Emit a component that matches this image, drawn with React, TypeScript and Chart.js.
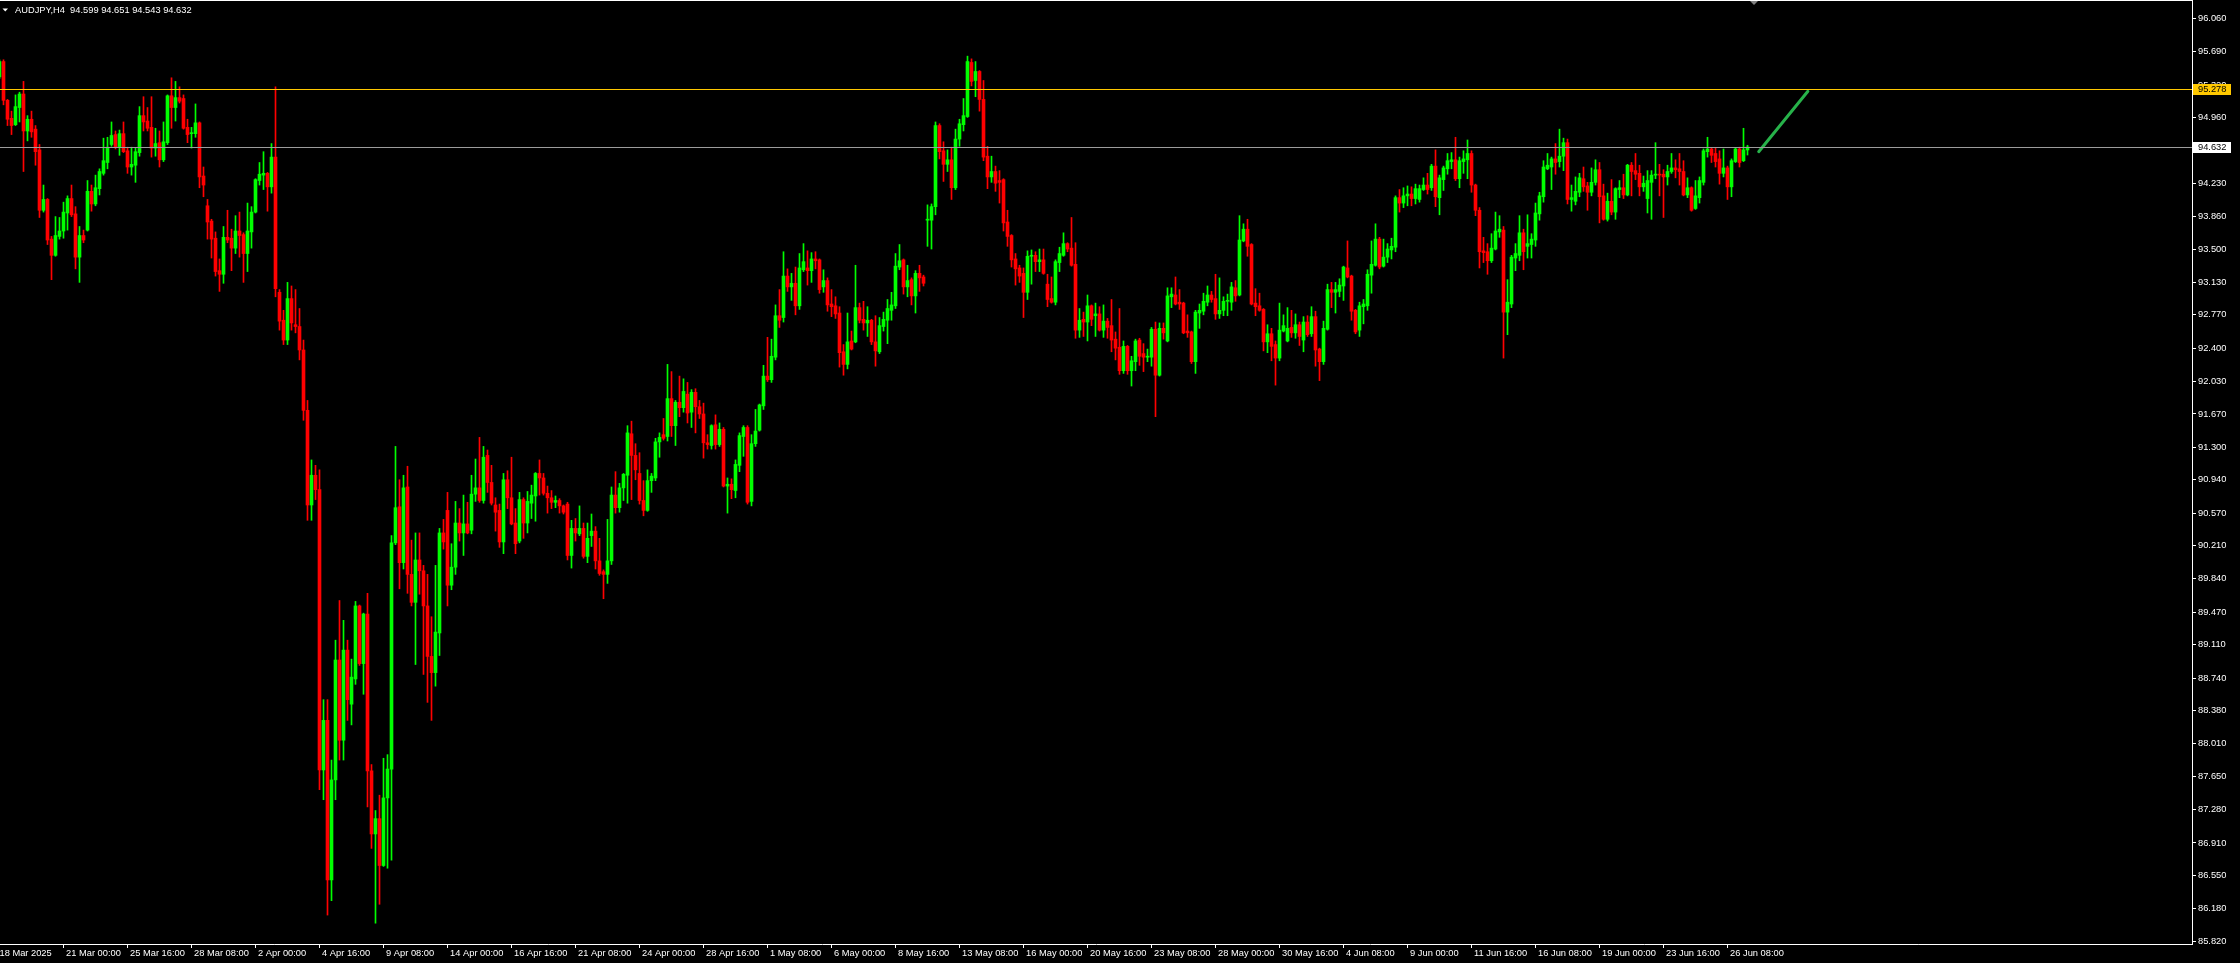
import React, { useEffect, useRef } from "react";
import { Chart, registerables } from "chart.js";

Chart.register(...registerables);

const W = 2240;
const H = 963;
const FONT = "'Liberation Sans', Arial, sans-serif";
const FONT_SIZE = 9.3;

const TITLE_TEXT = "AUDJPY,H4  94.599 94.651 94.543 94.632";

// H4 candles, bar index 0 = 18 Mar 2025 08:00
const OPEN = [
  95.41, 95.58, 95.15, 94.95, 94.88, 95.07, 95.22, 94.81, 94.94, 94.83,
  94.60, 93.93, 94.05, 93.61, 93.43, 93.64, 93.70, 93.90, 94.06, 93.89,
  93.41, 93.65, 93.71, 94.14, 94.00, 94.17, 94.34, 94.46, 94.66, 94.77,
  94.63, 94.78, 94.59, 94.41, 94.43, 94.57, 94.98, 94.92, 94.85, 94.62,
  94.68, 94.49, 94.68, 95.20, 95.07, 95.18, 95.17, 94.85, 94.78, 94.78,
  94.90, 94.31, 93.98, 93.81, 93.62, 93.26, 93.22, 93.63, 93.62, 93.51,
  93.70, 93.66, 93.45, 93.69, 93.91, 94.26, 94.32, 94.34, 94.19, 94.52,
  93.02, 92.71, 92.49, 92.95, 92.66, 92.64, 92.38, 91.71, 90.66, 90.99,
  90.83, 87.72, 88.27, 86.50, 87.61, 88.94, 88.05, 89.05, 88.45, 88.73,
  89.54, 88.90, 89.45, 87.71, 87.01, 87.18, 86.66, 87.41, 87.73, 90.24,
  90.64, 90.02, 90.86, 89.89, 89.58, 90.05, 89.93, 89.54, 88.98, 88.80,
  89.24, 90.35, 90.60, 89.77, 89.97, 90.46, 90.35, 90.45, 90.38, 90.78,
  90.85, 90.71, 91.21, 90.91, 90.66, 90.60, 90.25, 90.94, 90.74, 90.46,
  90.26, 90.72, 90.46, 90.68, 90.76, 91.01, 90.96, 90.79, 90.74, 90.69,
  90.71, 90.65, 90.67, 90.10, 90.40, 90.34, 90.40, 90.09, 90.32, 90.37,
  90.04, 89.92, 89.89, 90.04, 90.77, 90.63, 90.85, 90.99, 91.45, 91.21,
  91.01, 90.71, 90.60, 90.93, 90.96, 91.36, 91.44, 91.42, 91.84, 91.54,
  91.80, 91.74, 91.89, 91.69, 91.91, 91.75, 91.67, 91.35, 91.32, 91.55,
  91.33, 91.50, 90.87, 90.89, 90.82, 91.10, 91.42, 91.52, 90.70, 91.34,
  91.49, 91.76, 92.09, 92.05, 92.30, 92.76, 92.74, 93.20, 93.08, 93.12,
  92.87, 93.27, 93.29, 93.26, 93.39, 93.38, 93.08, 93.15, 92.89, 92.87,
  92.79, 92.36, 92.22, 92.48, 92.47, 92.85, 92.72, 92.68, 92.71, 92.47,
  92.36, 92.64, 92.71, 92.82, 92.87, 93.30, 93.38, 93.08, 93.16, 92.98,
  93.23, 93.19, 93.82, 93.82, 93.97, 94.87, 94.59, 94.44, 94.49, 94.18,
  94.72, 94.88, 94.97, 95.57, 95.37, 95.47, 95.16, 94.53, 94.30, 94.36,
  94.26, 94.27, 93.80, 93.65, 93.39, 93.29, 93.23, 93.02, 93.42, 93.43,
  93.36, 93.38, 93.11, 92.95, 92.91, 93.35, 93.43, 93.56, 93.51, 93.33,
  92.60, 92.72, 92.69, 92.87, 92.76, 92.78, 92.60, 92.70, 92.65, 92.50,
  92.41, 92.15, 92.42, 92.15, 92.25, 92.49, 92.34, 92.30, 92.30, 92.61,
  92.10, 92.62, 92.48, 92.97, 92.99, 92.91, 92.90, 92.59, 92.58, 92.25,
  92.79, 92.81, 92.91, 92.99, 92.95, 92.78, 92.82, 92.92, 92.91, 93.07,
  92.99, 93.59, 93.72, 93.55, 92.90, 92.87, 92.83, 92.47, 92.56, 92.44,
  92.29, 92.59, 92.48, 92.63, 92.57, 92.66, 92.49, 92.69, 92.56, 92.75,
  92.39, 92.25, 92.61, 93.05, 93.02, 93.03, 93.09, 93.29, 93.20, 92.82,
  92.60, 92.86, 92.87, 93.21, 93.32, 93.61, 93.31, 93.41, 93.49, 93.52,
  94.07, 94.01, 94.09, 94.11, 94.06, 94.05, 94.16, 94.21, 94.18, 94.42,
  94.07, 94.27, 94.39, 94.47, 94.49, 94.28, 94.47, 94.49, 94.56, 94.21,
  93.93, 93.48, 93.47, 93.37, 93.50, 93.69, 93.71, 92.80, 92.89, 93.40,
  93.43, 93.68, 93.53, 93.55, 93.60, 93.89, 94.08, 94.39, 94.41, 94.50,
  94.47, 94.53, 94.68, 94.05, 94.03, 94.13, 94.28, 94.20, 94.13, 94.24,
  94.38, 94.09, 93.83, 94.03, 93.91, 94.16, 94.18, 94.10, 94.43, 94.37,
  94.34, 94.19, 94.06, 94.24, 94.32, 94.33, 94.33, 94.30, 94.36, 94.40,
  94.39, 94.36, 94.10, 94.18, 93.95, 94.07, 94.24, 94.58, 94.61, 94.56,
  94.50, 94.34, 94.40, 94.19, 94.47, 94.61, 94.48, 94.599,
];

const HIGH = [
  95.60, 95.60, 95.16, 95.03, 95.21, 95.24, 95.36, 94.98, 95.03, 94.87,
  94.66, 94.21, 94.06, 93.64, 93.86, 93.85, 94.02, 94.09, 94.21, 93.97,
  93.75, 93.71, 94.26, 94.21, 94.32, 94.39, 94.73, 94.74, 94.91, 94.81,
  94.82, 94.91, 94.63, 94.63, 94.62, 95.08, 95.19, 95.07, 95.19, 94.84,
  94.81, 94.91, 95.21, 95.40, 95.36, 95.30, 95.21, 94.94, 94.85, 95.11,
  94.91, 94.41, 94.05, 93.83, 93.69, 93.39, 93.75, 93.93, 93.72, 93.87,
  93.91, 93.68, 94.01, 93.97, 94.28, 94.46, 94.58, 94.35, 94.67, 95.30,
  93.05, 92.82, 93.13, 93.09, 93.05, 92.84, 92.49, 91.82, 91.16, 91.10,
  91.05, 88.50, 88.50, 87.83, 89.16, 89.60, 89.38, 89.16, 88.95, 89.59,
  89.55, 89.46, 89.68, 87.78, 87.27, 87.44, 87.85, 87.89, 90.32, 91.31,
  90.94, 90.99, 91.09, 90.27, 90.35, 90.35, 89.99, 89.89, 89.42, 89.99,
  90.40, 90.50, 90.80, 90.23, 90.70, 90.62, 90.77, 90.69, 90.99, 91.17,
  91.41, 91.31, 91.27, 91.10, 90.74, 90.67, 91.01, 91.04, 91.19, 90.62,
  90.80, 90.74, 90.81, 90.88, 91.02, 91.16, 91.01, 90.87, 90.82, 90.76,
  90.73, 90.66, 90.69, 90.49, 90.51, 90.65, 90.46, 90.46, 90.56, 90.42,
  90.29, 89.94, 90.50, 90.86, 91.03, 90.90, 91.01, 91.54, 91.59, 91.34,
  91.24, 90.93, 91.05, 91.01, 91.40, 91.46, 91.62, 92.22, 92.14, 91.82,
  92.09, 92.06, 92.02, 91.94, 91.95, 91.82, 91.79, 91.44, 91.55, 91.66,
  91.57, 91.52, 90.96, 90.95, 91.16, 91.46, 91.54, 91.54, 91.44, 91.72,
  91.78, 92.21, 92.52, 92.50, 92.88, 93.05, 93.47, 93.28, 93.23, 93.30,
  93.45, 93.56, 93.48, 93.46, 93.47, 93.39, 93.27, 93.18, 93.05, 92.97,
  92.86, 92.44, 92.79, 92.59, 93.32, 92.90, 92.92, 92.86, 92.72, 92.76,
  92.74, 92.80, 92.94, 93.02, 93.45, 93.55, 93.39, 93.32, 93.18, 93.26,
  93.32, 93.21, 93.99, 94.00, 94.91, 94.89, 94.69, 94.60, 94.63, 94.83,
  94.94, 95.17, 95.64, 95.61, 95.58, 95.48, 95.37, 94.64, 94.53, 94.42,
  94.37, 94.28, 93.93, 93.66, 93.45, 93.32, 93.29, 93.48, 93.49, 93.47,
  93.50, 93.50, 93.22, 93.19, 93.38, 93.52, 93.68, 93.57, 93.85, 93.57,
  92.84, 92.80, 92.99, 92.88, 92.90, 92.86, 92.88, 92.73, 92.94, 92.58,
  92.84, 92.48, 92.43, 92.31, 92.50, 92.51, 92.45, 92.39, 92.63, 92.69,
  92.68, 92.68, 93.07, 93.07, 93.19, 93.05, 92.91, 92.77, 92.59, 92.82,
  92.89, 93.01, 93.09, 93.03, 93.22, 93.18, 92.97, 93.00, 93.13, 93.15,
  93.87, 93.78, 93.83, 93.56, 93.06, 93.01, 92.84, 92.66, 92.62, 92.48,
  92.90, 92.77, 92.85, 92.82, 92.78, 92.69, 92.75, 92.76, 92.86, 92.81,
  92.40, 92.70, 93.11, 93.13, 93.13, 93.17, 93.31, 93.59, 93.21, 92.83,
  92.91, 92.94, 93.27, 93.59, 93.78, 93.63, 93.61, 93.56, 93.62, 94.09,
  94.16, 94.18, 94.20, 94.19, 94.22, 94.21, 94.29, 94.34, 94.44, 94.60,
  94.32, 94.42, 94.56, 94.57, 94.74, 94.52, 94.59, 94.71, 94.59, 94.22,
  93.96, 93.63, 93.56, 93.67, 93.91, 93.87, 93.75, 93.16, 93.43, 93.56,
  93.87, 93.72, 93.88, 93.67, 94.01, 94.13, 94.48, 94.56, 94.52, 94.67,
  94.83, 94.73, 94.72, 94.21, 94.30, 94.34, 94.41, 94.24, 94.40, 94.49,
  94.46, 94.22, 94.12, 94.27, 94.18, 94.26, 94.33, 94.44, 94.46, 94.56,
  94.43, 94.31, 94.37, 94.37, 94.68, 94.44, 94.38, 94.43, 94.56, 94.49,
  94.56, 94.48, 94.29, 94.19, 94.26, 94.30, 94.61, 94.74, 94.62, 94.62,
  94.59, 94.61, 94.42, 94.50, 94.62, 94.63, 94.84, 94.651,
];

const LOW = [
  95.39, 95.10, 94.87, 94.77, 94.87, 94.91, 94.36, 94.70, 94.74, 94.43,
  93.85, 93.91, 93.55, 93.16, 93.42, 93.61, 93.62, 93.71, 93.86, 93.28,
  93.13, 93.57, 93.70, 93.92, 93.98, 94.10, 94.32, 94.39, 94.64, 94.61,
  94.54, 94.57, 94.34, 94.32, 94.24, 94.53, 94.81, 94.81, 94.52, 94.53,
  94.41, 94.47, 94.66, 94.84, 94.92, 95.12, 94.83, 94.68, 94.62, 94.74,
  94.18, 94.08, 93.61, 93.40, 93.20, 93.03, 93.12, 93.57, 93.26, 93.45,
  93.41, 93.13, 93.25, 93.51, 93.90, 94.21, 94.16, 93.92, 94.12, 92.97,
  92.60, 92.44, 92.44, 92.60, 92.57, 92.27, 91.60, 90.49, 90.49, 90.72,
  87.50, 87.39, 86.11, 86.27, 87.39, 87.83, 87.83, 88.27, 88.22, 88.67,
  88.88, 88.56, 87.31, 86.85, 86.02, 86.23, 86.65, 86.63, 86.72, 90.22,
  89.73, 89.95, 89.68, 89.54, 88.89, 89.67, 88.78, 88.47, 88.27, 88.65,
  88.99, 90.17, 89.54, 89.72, 89.89, 90.26, 90.10, 90.34, 90.34, 90.70,
  90.69, 90.68, 90.80, 90.66, 90.37, 90.19, 90.12, 90.62, 90.44, 90.12,
  90.24, 90.29, 90.35, 90.51, 90.48, 90.77, 90.77, 90.57, 90.62, 90.63,
  90.57, 90.56, 90.05, 89.96, 90.26, 90.32, 90.07, 90.02, 90.20, 89.95,
  89.88, 89.62, 89.79, 90.00, 90.57, 90.58, 90.71, 90.68, 90.72, 90.94,
  90.67, 90.54, 90.59, 90.80, 90.93, 91.19, 91.38, 91.37, 91.42, 91.32,
  91.64, 91.69, 91.57, 91.52, 91.46, 91.62, 91.18, 91.28, 91.28, 91.28,
  91.31, 90.86, 90.57, 90.73, 90.74, 91.03, 91.20, 90.67, 90.65, 91.31,
  91.48, 91.72, 92.03, 92.02, 92.27, 92.63, 92.69, 93.03, 92.93, 92.77,
  92.83, 93.25, 93.10, 93.13, 93.28, 93.01, 93.02, 92.81, 92.75, 92.73,
  92.19, 92.10, 92.17, 92.38, 92.46, 92.68, 92.60, 92.53, 92.44, 92.20,
  92.34, 92.59, 92.45, 92.71, 92.84, 93.27, 93.00, 92.97, 92.88, 92.79,
  93.03, 93.09, 93.53, 93.50, 93.88, 94.50, 94.25, 94.36, 94.05, 94.16,
  94.64, 94.81, 94.96, 95.31, 95.19, 95.03, 94.48, 94.17, 94.24, 94.14,
  94.01, 93.70, 93.53, 93.30, 93.10, 93.13, 92.74, 92.94, 93.11, 93.25,
  93.25, 93.22, 92.86, 92.90, 92.88, 93.25, 93.42, 93.47, 93.31, 92.51,
  92.52, 92.53, 92.48, 92.65, 92.53, 92.59, 92.52, 92.51, 92.36, 92.27,
  92.11, 92.12, 92.11, 91.98, 92.15, 92.21, 92.14, 92.25, 92.20, 91.64,
  92.09, 92.50, 92.47, 92.85, 92.88, 92.83, 92.56, 92.52, 92.23, 92.12,
  92.62, 92.77, 92.87, 92.91, 92.72, 92.73, 92.76, 92.76, 92.82, 92.92,
  92.98, 93.58, 93.42, 92.88, 92.76, 92.81, 92.37, 92.35, 92.26, 91.99,
  92.26, 92.58, 92.47, 92.52, 92.51, 92.43, 92.36, 92.53, 92.53, 92.20,
  92.04, 92.22, 92.60, 92.85, 92.79, 92.97, 92.93, 93.18, 92.71, 92.56,
  92.53, 92.67, 92.82, 93.01, 93.31, 93.28, 93.30, 93.35, 93.39, 93.47,
  93.91, 93.96, 93.98, 93.98, 94.00, 94.02, 94.15, 94.11, 94.15, 93.97,
  93.88, 94.15, 94.33, 94.39, 94.26, 94.18, 94.34, 94.28, 94.13, 93.87,
  93.29, 93.35, 93.22, 93.35, 93.49, 93.63, 92.29, 92.55, 92.85, 93.26,
  93.37, 93.27, 93.40, 93.40, 93.53, 93.82, 94.02, 94.38, 94.16, 94.33,
  94.41, 94.37, 94.00, 93.92, 93.99, 94.08, 94.14, 93.93, 94.09, 94.21,
  93.79, 93.82, 93.81, 93.88, 93.83, 94.07, 94.06, 94.09, 94.09, 94.27,
  94.09, 94.14, 93.90, 93.83, 94.28, 94.09, 93.85, 94.21, 94.34, 94.29,
  94.21, 94.09, 94.07, 93.92, 93.94, 94.01, 94.21, 94.52, 94.46, 94.41,
  94.22, 94.30, 94.05, 94.08, 94.46, 94.41, 94.47, 94.543,
];

const CLOSE = [
  95.58, 95.15, 94.94, 94.87, 95.08, 95.22, 94.81, 94.94, 94.80, 94.58,
  93.93, 94.05, 93.60, 93.43, 93.65, 93.70, 93.91, 94.06, 93.88, 93.41,
  93.65, 93.60, 94.14, 94.00, 94.18, 94.36, 94.48, 94.63, 94.76, 94.63,
  94.78, 94.58, 94.41, 94.44, 94.58, 94.98, 94.91, 94.84, 94.62, 94.67,
  94.49, 94.69, 95.20, 95.07, 95.18, 95.14, 94.84, 94.77, 94.79, 94.90,
  94.30, 94.21, 93.80, 93.61, 93.25, 93.22, 93.63, 93.60, 93.51, 93.70,
  93.65, 93.45, 93.70, 93.91, 94.27, 94.33, 94.34, 94.19, 94.52, 93.06,
  92.70, 92.49, 92.95, 92.68, 92.64, 92.38, 91.71, 90.66, 90.99, 90.83,
  87.72, 88.27, 86.50, 87.61, 88.94, 88.05, 89.05, 88.50, 88.75, 89.54,
  88.90, 89.45, 87.71, 87.01, 87.18, 86.66, 87.41, 87.73, 90.24, 90.63,
  90.02, 90.85, 89.89, 89.58, 90.05, 89.93, 89.54, 88.98, 88.80, 89.25,
  90.35, 90.25, 89.77, 89.97, 90.46, 90.35, 90.45, 90.35, 90.78, 90.85,
  90.71, 91.19, 90.91, 90.68, 90.58, 90.25, 90.94, 90.74, 90.45, 90.23,
  90.72, 90.46, 90.70, 90.77, 91.01, 90.96, 90.79, 90.74, 90.69, 90.71,
  90.65, 90.58, 90.10, 90.40, 90.35, 90.40, 90.09, 90.29, 90.37, 90.04,
  89.90, 89.89, 90.04, 90.77, 90.63, 90.85, 91.00, 91.46, 91.21, 91.05,
  90.71, 90.60, 90.93, 90.98, 91.36, 91.41, 91.40, 91.84, 91.54, 91.80,
  91.74, 91.92, 91.68, 91.91, 91.75, 91.67, 91.35, 91.33, 91.54, 91.33,
  91.50, 90.87, 90.89, 90.83, 91.11, 91.43, 91.52, 90.69, 91.34, 91.48,
  91.77, 92.09, 92.05, 92.31, 92.76, 92.71, 93.20, 93.08, 93.12, 92.87,
  93.29, 93.36, 93.26, 93.39, 93.37, 93.05, 93.15, 92.88, 92.86, 92.78,
  92.35, 92.22, 92.47, 92.39, 92.85, 92.71, 92.68, 92.71, 92.47, 92.37,
  92.65, 92.72, 92.84, 92.88, 93.31, 93.37, 93.08, 93.15, 92.98, 93.23,
  93.18, 93.12, 93.83, 93.97, 94.87, 94.58, 94.44, 94.49, 94.18, 94.72,
  94.89, 94.98, 95.58, 95.36, 95.47, 95.16, 94.52, 94.30, 94.36, 94.23,
  94.24, 93.79, 93.64, 93.38, 93.28, 93.20, 93.02, 93.42, 93.43, 93.36,
  93.38, 93.23, 92.94, 92.91, 93.36, 93.45, 93.56, 93.50, 93.32, 92.60,
  92.71, 92.69, 92.87, 92.72, 92.78, 92.60, 92.70, 92.63, 92.49, 92.40,
  92.15, 92.42, 92.15, 92.26, 92.48, 92.31, 92.30, 92.31, 92.61, 92.10,
  92.62, 92.57, 92.98, 93.00, 92.89, 92.89, 92.57, 92.57, 92.25, 92.80,
  92.82, 92.92, 92.99, 92.94, 92.78, 92.82, 92.92, 92.93, 93.08, 92.98,
  93.60, 93.72, 93.53, 92.89, 92.86, 92.82, 92.47, 92.56, 92.42, 92.29,
  92.60, 92.65, 92.62, 92.57, 92.66, 92.53, 92.69, 92.55, 92.75, 92.38,
  92.25, 92.62, 93.05, 93.02, 93.05, 93.10, 93.30, 93.19, 92.81, 92.58,
  92.87, 92.89, 93.22, 93.33, 93.61, 93.30, 93.41, 93.50, 93.53, 94.07,
  94.01, 94.09, 94.11, 94.06, 94.17, 94.17, 94.21, 94.16, 94.42, 94.08,
  94.29, 94.40, 94.48, 94.49, 94.28, 94.48, 94.50, 94.56, 94.21, 93.93,
  93.47, 93.46, 93.37, 93.51, 93.70, 93.72, 92.80, 92.91, 93.41, 93.45,
  93.68, 93.47, 93.56, 93.61, 93.90, 94.09, 94.41, 94.43, 94.50, 94.46,
  94.53, 94.68, 94.05, 94.07, 94.14, 94.29, 94.19, 94.13, 94.24, 94.38,
  94.08, 93.83, 94.03, 93.91, 94.17, 94.18, 94.10, 94.43, 94.36, 94.33,
  94.19, 94.23, 94.26, 94.32, 94.33, 94.32, 94.30, 94.36, 94.40, 94.38,
  94.36, 94.10, 94.18, 93.93, 94.09, 94.26, 94.59, 94.61, 94.54, 94.47,
  94.34, 94.40, 94.19, 94.48, 94.61, 94.46, 94.60, 94.632,
];

const X_TICK_BARS = [
  0, 16, 32, 48, 64, 80, 96, 112, 128, 144, 160, 176, 192, 208,
  224, 240, 256, 272, 288, 304, 320, 336, 352, 368, 384, 400, 416, 432,
];
const X_TICK_LABELS = [
  "18 Mar 2025", "21 Mar 00:00", "25 Mar 16:00", "28 Mar 08:00", "2 Apr 00:00",
  "4 Apr 16:00", "9 Apr 08:00", "14 Apr 00:00", "16 Apr 16:00", "21 Apr 08:00",
  "24 Apr 00:00", "28 Apr 16:00", "1 May 08:00", "6 May 00:00", "8 May 16:00",
  "13 May 08:00", "16 May 00:00", "20 May 16:00", "23 May 08:00", "28 May 00:00",
  "30 May 16:00", "4 Jun 08:00", "9 Jun 00:00", "11 Jun 16:00", "16 Jun 08:00",
  "19 Jun 00:00", "23 Jun 16:00", "26 Jun 08:00",
];
const Y_TICKS = [
  96.06, 95.69, 95.32, 94.96, 94.6, 94.23, 93.86, 93.5, 93.13, 92.77,
  92.4, 92.03, 91.67, 91.3, 90.94, 90.57, 90.21, 89.84, 89.47, 89.11,
  88.74, 88.38, 88.01, 87.65, 87.28, 86.91, 86.55, 86.18, 85.82,
];

const RESISTANCE_LEVEL = 95.278;
const BID_PRICE = 94.632;
const ARROW_X = [439.8, 452.1];
const ARROW_Y = [94.58, 95.25];

const Y_MIN = 85.789;
const Y_MAX = 96.252;
const X_MIN = 0.125;
const X_MAX = 548.125;

const UP_COLOR = "#00ff00";
const DOWN_COLOR = "#ff0000";

const overlayPlugin = {
  id: "mtOverlay",
  afterDatasetsDraw(chart: any) {
    const { ctx, chartArea, scales } = chart;
    const y = scales.y;
    ctx.save();
    ctx.lineWidth = 1;
    const yr = Math.round(y.getPixelForValue(RESISTANCE_LEVEL)) + 0.5;
    ctx.strokeStyle = "#ffc800";
    ctx.beginPath();
    ctx.moveTo(chartArea.left, yr);
    ctx.lineTo(chartArea.right, yr);
    ctx.stroke();
    const yb = Math.round(y.getPixelForValue(BID_PRICE)) + 0.5;
    ctx.strokeStyle = "#9c9c9c";
    ctx.beginPath();
    ctx.moveTo(chartArea.left, yb);
    ctx.lineTo(chartArea.right, yb);
    ctx.stroke();
    ctx.restore();
  },
  afterDraw(chart: any) {
    const { ctx, chartArea, scales } = chart;
    const y = scales.y;
    ctx.save();
    // top frame line
    ctx.fillStyle = "#ffffff";
    ctx.fillRect(0, 0, chartArea.right + 1, 1);
    // chart shift marker
    ctx.fillStyle = "#808080";
    ctx.beginPath();
    ctx.moveTo(1750, 1);
    ctx.lineTo(1758, 1);
    ctx.lineTo(1754, 5);
    ctx.closePath();
    ctx.fill();
    // title
    ctx.fillStyle = "#ffffff";
    ctx.beginPath();
    ctx.moveTo(2.5, 8.5);
    ctx.lineTo(8, 8.5);
    ctx.lineTo(5.25, 11.5);
    ctx.closePath();
    ctx.fill();
    ctx.font = `${FONT_SIZE}px ${FONT}`;
    ctx.textBaseline = "middle";
    ctx.textAlign = "left";
    ctx.fillText(TITLE_TEXT, 15, 10);
    // price tags
    const tag = (price: number, bg: string, fg: string) => {
      const py = Math.round(y.getPixelForValue(price));
      ctx.fillStyle = bg;
      ctx.fillRect(chartArea.right + 1, py - 5, 38, 11);
      ctx.fillStyle = fg;
      ctx.fillText(price.toFixed(3), chartArea.right + 6, py + 0.5);
    };
    tag(RESISTANCE_LEVEL, "#ffc800", "#000000");
    tag(BID_PRICE, "#ffffff", "#000000");
    ctx.restore();
  },
};

export default function App() {
  const canvasRef = useRef<HTMLCanvasElement | null>(null);

  useEffect(() => {
    const canvas = canvasRef.current;
    if (!canvas) return;
    const idx = OPEN.map((_, i) => i);
    const colors = idx.map((i) => (CLOSE[i] >= OPEN[i] ? UP_COLOR : DOWN_COLOR));

    const chart = new Chart(canvas, {
      type: "bar",
      data: {
        datasets: [
          {
            type: "line",
            data: [
              { x: ARROW_X[0], y: ARROW_Y[0] },
              { x: ARROW_X[1], y: ARROW_Y[1] },
            ],
            borderColor: "#27b24a",
            borderWidth: 3,
            borderCapStyle: "round",
            pointRadius: 0,
            tension: 0,
            order: 0,
          } as any,
          {
            type: "bar",
            data: idx.map((i) => ({ x: i, y: [OPEN[i], CLOSE[i]] })),
            backgroundColor: colors,
            borderWidth: 0,
            barThickness: 3,
            minBarLength: 1,
            grouped: false,
            order: 1,
          } as any,
          {
            type: "bar",
            data: idx.map((i) => ({ x: i, y: [LOW[i], HIGH[i]] })),
            backgroundColor: colors,
            borderWidth: 0,
            barThickness: 1,
            minBarLength: 1,
            grouped: false,
            order: 2,
          } as any,
        ],
      },
      options: {
        responsive: false,
        maintainAspectRatio: false,
        devicePixelRatio: 1,
        animation: false,
        events: [],
        layout: { padding: { top: 1, left: 0, right: 0, bottom: 0 } },
        plugins: {
          legend: { display: false },
          tooltip: { enabled: false },
          title: { display: false },
        },
        scales: {
          x: {
            type: "linear",
            position: "bottom",
            min: X_MIN,
            max: X_MAX,
            offset: false,
            bounds: "data",
            afterBuildTicks: (s: any) => {
              s.ticks = X_TICK_BARS.map((v) => ({ value: v }));
            },
            afterFit: (s: any) => {
              s.height = 19;
              s.paddingLeft = 0;
              s.paddingRight = 0;
            },
            ticks: {
              autoSkip: false,
              maxRotation: 0,
              minRotation: 0,
              align: "start",
              padding: 0,
              color: "#ffffff",
              font: { family: FONT, size: FONT_SIZE },
              callback: (_v: any, i: number) => (i === 0 ? "" : " ") + X_TICK_LABELS[i],
            },
            grid: {
              display: true,
              drawOnChartArea: false,
              drawTicks: true,
              tickLength: 4,
              color: "#ffffff",
              offset: false,
            },
            border: { display: true, color: "#ffffff", width: 1 },
          } as any,
          y: {
            type: "linear",
            position: "right",
            min: Y_MIN,
            max: Y_MAX,
            bounds: "data",
            afterBuildTicks: (s: any) => {
              s.ticks = Y_TICKS.map((v) => ({ value: v }));
            },
            afterFit: (s: any) => {
              s.width = 48;
              s.paddingTop = 0;
              s.paddingBottom = 0;
            },
            ticks: {
              autoSkip: false,
              padding: 2,
              color: "#ffffff",
              font: { family: FONT, size: FONT_SIZE },
              callback: (v: any) => Number(v).toFixed(3),
            },
            grid: {
              display: true,
              drawOnChartArea: false,
              drawTicks: true,
              tickLength: 4,
              color: "#ffffff",
            },
            border: { display: true, color: "#ffffff", width: 1 },
          } as any,
        },
      },
      plugins: [overlayPlugin],
    });

    return () => {
      chart.destroy();
    };
  }, []);

  return (
    <div
      style={{
        position: "fixed",
        left: 0,
        top: 0,
        width: W,
        height: H,
        background: "#000000",
        overflow: "hidden",
      }}
    >
      <canvas
        ref={canvasRef}
        width={W}
        height={H}
        style={{ display: "block", width: W, height: H }}
      />
    </div>
  );
}
